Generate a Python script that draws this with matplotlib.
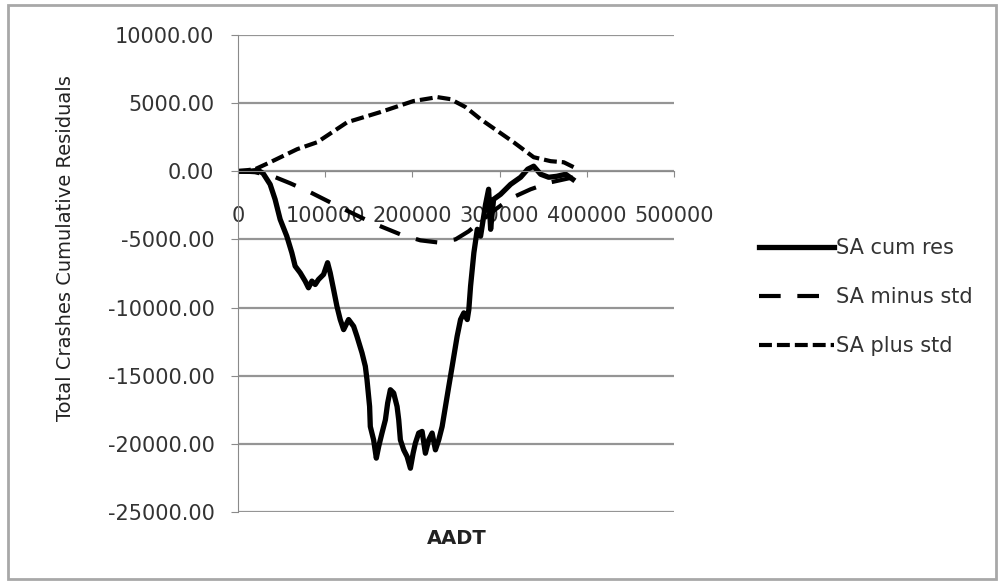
import matplotlib
matplotlib.use("Agg")
import matplotlib.pyplot as plt
from matplotlib.patches import Rectangle
from matplotlib.ticker import FormatStrFormatter, FixedLocator

plt.rcParams["font.family"] = ["DejaVu Sans"]

# cumulative residuals along AADT
cum_aadt = [0, 13800, 23000, 28700, 36800, 42500, 48300, 55900, 61700, 65500,
            71300, 77000, 80800, 84700, 88500, 92300, 98100, 102700, 105700,
            109600, 113400, 117200, 121100, 126800, 132600, 136400, 142200,
            146000, 147900, 150900, 151700, 155500, 158600, 161300, 165100,
            169000, 171600, 174700, 178500, 182400, 184300, 186200, 190000,
            193900, 197700, 200800, 203400, 207200, 211100, 214900, 218700,
            222600, 226400, 230200, 234100, 237900, 241700, 245600, 251300,
            255200, 259000, 262900, 264700, 266700, 270500, 274400, 278200,
            283900, 287400, 289700, 293100, 301100, 312600, 324100, 332200,
            339100, 347100, 356300, 365500, 375800, 383900]
cum_res = [0, 0, 70, -150, -960, -2060, -3530, -4760, -5980, -6960,
           -7450, -8060, -8550, -8060, -8310, -7940, -7570, -6710, -7450,
           -8680, -9900, -10880, -11620, -10880, -11380, -12110, -13330,
           -14310, -15290, -17260, -18730, -19710, -21050, -20200, -19210,
           -18240, -17010, -16030, -16270, -17260, -18240, -19710, -20440,
           -20930, -21790, -20690, -19950, -19210, -19090, -20690, -19710,
           -19210, -20440, -19710, -18730, -17260, -15790, -14310, -12110,
           -10880, -10390, -10880, -10150, -8430, -5980, -4260, -4760,
           -2430, -1320, -4260, -2060, -1690, -960, -440, 150,
           370, -220, -440, -370, -220, -590]

minus_aadt = [0, 19500, 40200, 59800, 82800, 117200, 155200, 186200, 209200,
              228700, 249400, 264400, 278200, 295400, 312600, 335600, 358600,
              385000]
minus_std = [0, -70, -370, -880, -1540, -2650, -3820, -4630, -5070,
             -5220, -5000, -4410, -3680, -2790, -1990, -1320, -810,
             -440]

plus_aadt = [0, 19500, 36800, 67800, 90800, 125300, 163200, 201100, 228700,
             243700, 260900, 278200, 316100, 339100, 358600, 373600, 385000]
plus_std = [0, 150, 660, 1620, 2130, 3600, 4340, 5150, 5440,
            5290, 4710, 3820, 2130, 1030, 740, 660, 300]

x_ticks = [0, 100000, 200000, 300000, 400000, 500000]
y_ticks = [10000, 5000, 0, -5000, -10000, -15000, -20000, -25000]

fig = plt.figure(figsize=(10.01, 5.81), dpi=100)
fig.patches.append(Rectangle((8 / 1001, 2 / 581), 988 / 1001, 574 / 581,
                             transform=fig.transFigure, fill=False,
                             edgecolor="#a8a8a8", linewidth=2))

ax = fig.add_axes([0.2378, 0.1188, 0.4355, 0.8210])

ax.plot(cum_aadt, cum_res, color="black", linewidth=3.8,
        solid_joinstyle="round", label="SA cum res")
ax.plot(minus_aadt, minus_std, color="black", linewidth=3,
        linestyle=(0, (5.2, 4)), label="SA minus std")
ax.plot(plus_aadt, plus_std, color="black", linewidth=3,
        linestyle=(0, (3.1, 1.2)), label="SA plus std")

ax.set_xlim(0, 500000)
ax.set_ylim(-25000, 10000)
ax.xaxis.set_major_locator(FixedLocator(x_ticks))
ax.yaxis.set_major_locator(FixedLocator(y_ticks))
ax.yaxis.set_major_formatter(FormatStrFormatter("%.2f"))

ax.grid(axis="y", color="#959595", linewidth=1.6)
ax.set_axisbelow(True)
for side in ("top", "right"):
    ax.spines[side].set_visible(False)
ax.spines["bottom"].set_position(("data", 0))
ax.spines["bottom"].set_color("#8a8a8a")
ax.spines["left"].set_color("#8a8a8a")

ax.tick_params(axis="x", direction="out", length=4, color="#8a8a8a",
               labelsize=15, pad=21)
ax.tick_params(axis="y", direction="out", length=5, color="#8a8a8a",
               labelsize=15, pad=12)
for lab in ax.get_xticklabels() + ax.get_yticklabels():
    lab.set_color("#333333")

fig.text(0.065, 1 - 248 / 581, "Total Crashes Cumulative Residuals",
         rotation=90, ha="center", va="center", fontsize=14, color="#222222")
fig.text(457 / 1001, 1 - 538 / 581, "AADT", ha="center", va="center",
         fontsize=14, fontweight="bold", color="#222222")

fig.legend(loc="center left", bbox_to_anchor=(740 / 1001, 1 - 297 / 581),
           frameon=False, fontsize=15, handlelength=3.6, handletextpad=0.1,
           labelspacing=1.4, labelcolor="#333333")

fig.savefig("out.png", dpi=100)
